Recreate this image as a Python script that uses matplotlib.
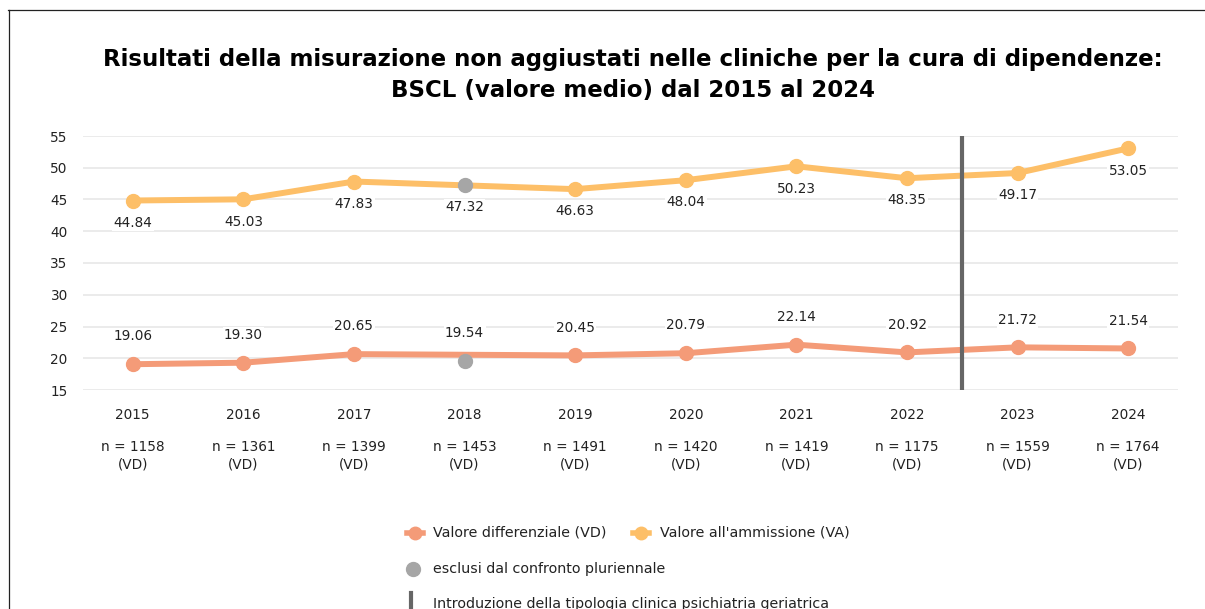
import matplotlib.pyplot as plt
from matplotlib.lines import Line2D
import numpy as np

years = ["2015", "2016", "2017", "2018", "2019", "2020", "2021", "2022", "2023", "2024"]
va = [44.84, 45.03, 47.83, 47.32, 46.63, 48.04, 50.23, 48.35, 49.17, 53.05]
vd = [19.06, 19.30, 20.65, 19.54, 20.45, 20.79, 22.14, 20.92, 21.72, 21.54]
n_vd = [1158, 1361, 1399, 1453, 1491, 1420, 1419, 1175, 1559, 1764]
excluded = ["2018"]
intro_between = ("2022", "2023")

c_va = "#fdbf68"
c_vd = "#f49b78"
c_ex = "#a6a6a6"
c_bar = "#666666"
c_txt = "#222222"
fs = 9.8

plt.rcParams["font.family"] = ["DejaVu Sans"]

fig = plt.figure(figsize=(12.05, 6.09), dpi=100)
ax = fig.add_axes([83 / 1205, 1 - 390 / 609, (1178 - 83) / 1205, (390 - 136) / 609])

x = np.arange(len(years))
keep = np.array([y not in excluded for y in years])
va_a = np.array(va)
vd_a = np.array(vd)

for vals, col in [(va_a, c_va), (vd_a, c_vd)]:
    ax.plot(x[keep], vals[keep], color=col, lw=4.3, marker="o", ms=10,
            solid_capstyle="round", zorder=3)
    ax.plot(x[~keep], vals[~keep], ls="none", marker="o", ms=10, color=c_ex, zorder=4)

for i in range(len(years)):
    ax.annotate(f"{va[i]:.2f}", (x[i], va[i]), xytext=(0, -16), textcoords="offset points",
                ha="center", va="center", fontsize=fs, color=c_txt, zorder=2,
                bbox=dict(boxstyle="square,pad=0.1", fc="white", ec="none"))
    ax.annotate(f"{vd[i]:.2f}", (x[i], vd[i]), xytext=(0, 20), textcoords="offset points",
                ha="center", va="center", fontsize=fs, color=c_txt, zorder=2,
                bbox=dict(boxstyle="square,pad=0.1", fc="white", ec="none"))

xv = (years.index(intro_between[0]) + years.index(intro_between[1])) / 2
ax.axvline(xv, color=c_bar, lw=3, zorder=5)

ax.set_xlim(-0.45, len(years) - 0.55)
ax.set_ylim(15, 55)
ax.set_yticks(range(15, 56, 5))
ax.grid(axis="y", color="#e8e8e8", lw=1.2)
ax.set_axisbelow(True)
for s in ax.spines.values():
    s.set_visible(False)
ax.tick_params(axis="y", length=0, pad=11, labelsize=fs, labelcolor=c_txt)
ax.set_xticks(x)
ax.set_xticklabels(years)
ax.tick_params(axis="x", length=0, pad=13, labelsize=fs, labelcolor=c_txt)

for i in range(len(years)):
    ax.text(x[i], -0.26, f"n = {n_vd[i]}\n(VD)", transform=ax.get_xaxis_transform(),
            ha="center", va="center", fontsize=fs, color=c_txt, linespacing=1.3)

fig.text(0.525, 1 - 75 / 609, "Risultati della misurazione non aggiustati nelle cliniche per la cura di dipendenze:\nBSCL (valore medio) dal 2015 al 2024",
         ha="center", va="center", fontsize=16.5, fontweight="bold", linespacing=1.4)

# frame
fig.add_artist(Line2D([8 / 1205, 1], [1 - 10 / 609] * 2, color=c_txt, lw=0.9))
fig.add_artist(Line2D([9 / 1205] * 2, [0, 1 - 10 / 609], color=c_txt, lw=0.9))

# legend
lfs = 10.3

def px(xp, yp):
    return xp / 1205, 1 - yp / 609

def leg_marker(xp, yp, col):
    xs = [px(xp - 8, yp)[0], px(xp + 8, yp)[0]]
    ys = [px(xp, yp)[1]] * 2
    fig.add_artist(Line2D(xs, ys, color=col, lw=4))
    fig.add_artist(Line2D([px(xp, yp)[0]], [px(xp, yp)[1]], color=col, marker="o", ms=9, ls="none"))

leg_marker(415, 533, c_vd)
fig.text(*px(433, 533), "Valore differenziale (VD)", ha="left", va="center", fontsize=lfs, color=c_txt)
leg_marker(641, 533, c_va)
fig.text(*px(660, 533), "Valore all'ammissione (VA)", ha="left", va="center", fontsize=lfs, color=c_txt)
fig.add_artist(Line2D([px(413, 569)[0]], [px(413, 569)[1]], color=c_ex, marker="o", ms=10, ls="none"))
fig.text(*px(433, 569), "esclusi dal confronto pluriennale", ha="left", va="center", fontsize=lfs, color=c_txt)
fig.add_artist(Line2D([px(411, 0)[0]] * 2, [px(0, 593)[1], px(0, 612)[1]], color=c_bar, lw=3))
fig.text(*px(433, 604), "Introduzione della tipologia clinica psichiatria geriatrica", ha="left", va="center",
         fontsize=lfs, color=c_txt)

fig.savefig("out.png", dpi=100)
